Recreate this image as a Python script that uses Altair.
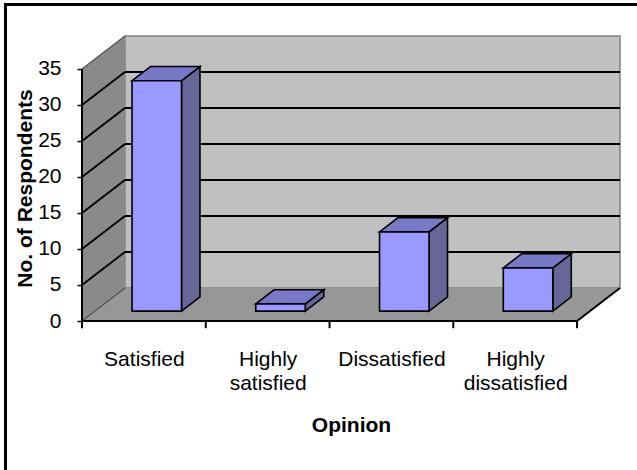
import altair as alt
import pandas as pd

# ---------------- data ----------------
categories = ["Satisfied", "Highly satisfied", "Dissatisfied", "Highly dissatisfied"]
label_lines = [["Satisfied"], ["Highly", "satisfied"], ["Dissatisfied"], ["Highly", "dissatisfied"]]
respondents = [32, 1, 11, 6]
y_ticks = [0, 5, 10, 15, 20, 25, 30, 35]
y_max_tick = 35

# ---------------- pseudo-3D geometry (data units) ----------------
N = len(categories)
DX = 0.347      # full depth offset along x (category units)
DY = 4.58       # full depth offset along y (value units)
D0, D1 = 0.30, 0.73   # bar front / back depth fraction
HALF = 0.2      # half bar width (category units)
XMAX = N + DX
YMAX = 39.72

FONT = "Liberation Sans, Arial, sans-serif"
xs = alt.Scale(domain=[0, XMAX], nice=False, zero=False)
ys = alt.Scale(domain=[0, YMAX], nice=False, zero=False)

label_expr = ""
for i, lines in enumerate(label_lines):
    arr = "[" + ",".join("'" + s + "'" for s in lines) + "]"
    if i < N - 1:
        label_expr += f"datum.value < {i + 1} ? {arr} : "
    else:
        label_expr += arr

AX_X = alt.Axis(
    values=[i + 0.5 for i in range(N)], labelExpr=label_expr, ticks=False, tickSize=0,
    domain=False, grid=False, labelFont=FONT, labelFontSize=21, labelColor="black",
    labelPadding=27, labelLineHeight=24, labelAngle=0, labelAlign="center",
    title="Opinion", titleFont=FONT, titleFontSize=21, titleFontWeight="bold",
    titleColor="black", titleX=269, titleY=104, titleBaseline="middle")
AX_Y = alt.Axis(
    values=y_ticks, format="d", tickSize=5, tickColor="black", tickWidth=1.5,
    domain=False, grid=False, labelFont=FONT, labelFontSize=21, labelColor="black",
    labelPadding=16, title="No. of Respondents", titleFont=FONT, titleFontSize=21,
    titleFontWeight="bold", titleColor="black", titleAngle=270, titleX=-57,
    titleY=153, titleAlign="center", titleBaseline="middle")


def X(f="x", **kw):
    return alt.X(f"{f}:Q", scale=xs, axis=AX_X, **kw)


def Y(f="y", **kw):
    return alt.Y(f"{f}:Q", scale=ys, axis=AX_Y, **kw)


# ---------- walls & floor ----------
back_df = pd.DataFrame({"x": [DX], "x2": [N + DX], "y": [DY], "y2": [y_max_tick + DY]})
back = alt.Chart(back_df).mark_rect(fill="#C0C0C0", stroke="#808080", strokeWidth=1.5).encode(
    x=X(), x2="x2:Q", y=Y(), y2="y2:Q")

left_df = pd.DataFrame({"x": [0, DX], "y": [0, DY], "y2": [y_max_tick, y_max_tick + DY]})
left_wall = alt.Chart(left_df).mark_area(fill="#8A8A8A", orient="vertical").encode(
    x=X(), y=Y(stack=None), y2="y2:Q")

floor_df = pd.DataFrame({"y": [0, DY], "x": [0, DX], "x2": [N, N + DX]})
floor = alt.Chart(floor_df).mark_area(fill="#979797", orient="horizontal").encode(
    y=Y(), x=X(stack=None), x2="x2:Q")

# ---------- gridlines ----------
grid_vals = [v for v in y_ticks if 0 < v < y_max_tick]
back_grid_df = pd.DataFrame({"x": [DX] * len(grid_vals), "x2": [N + DX] * len(grid_vals),
                             "y": [v + DY for v in grid_vals]})
back_grid = alt.Chart(back_grid_df).mark_rule(color="black", strokeWidth=2).encode(
    x=X(), x2="x2:Q", y=Y())

left_grid_df = pd.DataFrame({"x": [0] * len(grid_vals), "x2": [DX] * len(grid_vals),
                             "y": grid_vals, "y2": [v + DY for v in grid_vals]})
left_grid = alt.Chart(left_grid_df).mark_rule(color="black", strokeWidth=1.8).encode(
    x=X(), x2="x2:Q", y=Y(), y2="y2:Q")

edge_df = pd.DataFrame({
    "x": [0, 0], "x2": [DX, DX],
    "y": [0, y_max_tick], "y2": [DY, y_max_tick + DY]})
edges = alt.Chart(edge_df).mark_rule(color="#505050", strokeWidth=1.2).encode(
    x=X(), x2="x2:Q", y=Y(), y2="y2:Q")

# front axis lines & ticks
axis_df = pd.DataFrame({
    "x": [0, 0, N], "x2": [0, N, N + DX],
    "y": [0, 0, 0], "y2": [y_max_tick, 0, DY]})
axis_lines = alt.Chart(axis_df).mark_rule(color="black", strokeWidth=2).encode(
    x=X(), x2="x2:Q", y=Y(), y2="y2:Q")

tick_df = pd.DataFrame({"x": list(range(N + 1)), "y": [0] * (N + 1), "y2": [-1] * (N + 1)})
x_ticks = alt.Chart(tick_df).mark_rule(color="black", strokeWidth=2).encode(
    x=X(), y=Y(), y2="y2:Q")

# ---------- bars ----------
front_rows, side_rows, top_rows = [], [], []
ddx = (D1 - D0) * DX
ddy = (D1 - D0) * DY
y0 = D0 * DY
for i, (cat, v) in enumerate(zip(categories, respondents)):
    xc = i + 0.5 + D0 * DX
    xl, xr = xc - HALF, xc + HALF
    front_rows.append({"bar": cat, "x": xl, "x2": xr, "y": y0, "y2": y0 + v})
    side_rows.append({"bar": cat, "x": xr, "y": y0, "y2": y0 + v})
    side_rows.append({"bar": cat, "x": xr + ddx, "y": y0 + ddy, "y2": y0 + v + ddy})
    top_rows.append({"bar": cat, "y": y0 + v, "x": xl, "x2": xr})
    top_rows.append({"bar": cat, "y": y0 + v + ddy, "x": xl + ddx, "x2": xr + ddx})

bar_side = alt.Chart(pd.DataFrame(side_rows)).mark_area(
    fill="#666699", stroke="black", strokeWidth=1.6, orient="vertical").encode(
    x=X(), y=Y(stack=None), y2="y2:Q", detail="bar:N")
bar_top = alt.Chart(pd.DataFrame(top_rows)).mark_area(
    fill="#7878C8", stroke="black", strokeWidth=1.6, orient="horizontal").encode(
    y=Y(), x=X(stack=None), x2="x2:Q", detail="bar:N")
bar_front = alt.Chart(pd.DataFrame(front_rows)).mark_rect(
    fill="#9999FF", stroke="black", strokeWidth=1.6).encode(
    x=X(), x2="x2:Q", y=Y(), y2="y2:Q")

# ---------- outer frame (partially visible) ----------
frame_top = alt.Chart(pd.DataFrame({"a": [0]})).mark_rule(color="black", strokeWidth=3).encode(
    x=alt.value(-77), x2=alt.value(560), y=alt.value(-30.5))
frame_left = alt.Chart(pd.DataFrame({"a": [0]})).mark_rule(color="black", strokeWidth=3).encode(
    x=alt.value(-76.5), y=alt.value(-32), y2=alt.value(440))

chart = alt.layer(
    back, left_wall, floor, back_grid, left_grid, edges, axis_lines, x_ticks,
    bar_side, bar_top, bar_front, frame_top, frame_left
).properties(
    width=538, height=286,
    padding={"left": 82, "top": 35, "right": 17, "bottom": 149},
    autosize=alt.AutoSizeParams(type="none"),
    background="white",
).configure_view(stroke=None)

chart.save("out.html", embed_options={"renderer": "svg", "actions": False})
